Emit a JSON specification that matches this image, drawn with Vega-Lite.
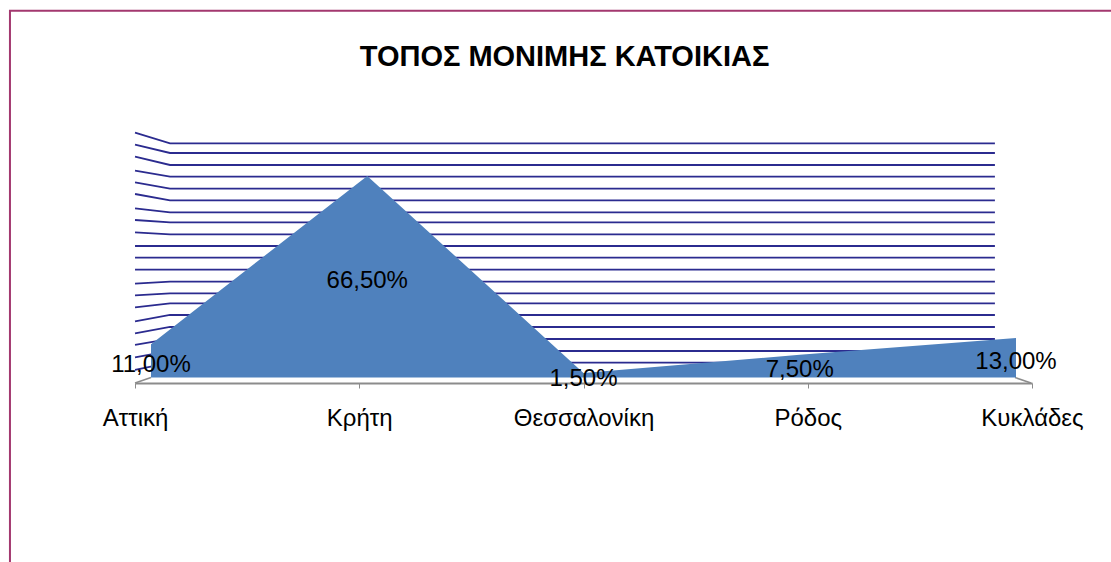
{"$schema":"https://vega.github.io/schema/vega-lite/v6.json","width":897,"height":283,"autosize":"none","padding":{"left":135,"top":100,"right":79,"bottom":179},"background":"white","config":{"view":{"stroke":null},"font":"Liberation Sans"},
"title":{"text":"ΤΟΠΟΣ ΜΟΝΙΜΗΣ ΚΑΤΟΙΚΙΑΣ","font":"Liberation Sans","fontSize":29,"fontWeight":"bold","color":"#000000","anchor":"middle","dx":-19,"offset":-65},
"datasets":{"shares":[{"place":"Αττική","share":11,"label":"11,00%"},{"place":"Κρήτη","share":66.5,"label":"66,50%"},{"place":"Θεσσαλονίκη","share":1.5,"label":"1,50%"},{"place":"Ρόδος","share":7.5,"label":"7,50%"},{"place":"Κυκλάδες","share":13,"label":"13,00%"}],
"grid":[{"line":1,"u":-0.074,"v":80.79},{"line":1,"u":0.088,"v":77.29},{"line":1,"u":3.907,"v":77.29},{"line":2,"u":-0.074,"v":76.83},{"line":2,"u":0.088,"v":74.09},{"line":2,"u":3.907,"v":74.09},{"line":3,"u":-0.074,"v":72.87},{"line":3,"u":0.088,"v":70.13},{"line":3,"u":3.907,"v":70.13},{"line":4,"u":-0.074,"v":68.25},{"line":4,"u":0.088,"v":66.27},{"line":4,"u":3.907,"v":66.27},{"line":5,"u":-0.074,"v":64.42},{"line":5,"u":0.088,"v":62.31},{"line":5,"u":3.907,"v":62.31},{"line":6,"u":-0.074,"v":60.56},{"line":6,"u":0.088,"v":58.48},{"line":6,"u":3.907,"v":58.48},{"line":7,"u":-0.074,"v":55.84},{"line":7,"u":0.088,"v":54.52},{"line":7,"u":3.907,"v":54.52},{"line":8,"u":-0.074,"v":51.98},{"line":8,"u":0.088,"v":51.22},{"line":8,"u":3.907,"v":51.22},{"line":9,"u":-0.074,"v":47.92},{"line":9,"u":0.088,"v":47.26},{"line":9,"u":3.907,"v":47.26},{"line":10,"u":-0.074,"v":43.4},{"line":10,"u":0.088,"v":43.4},{"line":10,"u":3.907,"v":43.4},{"line":11,"u":-0.074,"v":39.54},{"line":11,"u":0.088,"v":39.54},{"line":11,"u":3.907,"v":39.54},{"line":12,"u":-0.074,"v":35.58},{"line":12,"u":0.088,"v":35.58},{"line":12,"u":3.907,"v":35.58},{"line":13,"u":-0.074,"v":30.96},{"line":13,"u":0.088,"v":31.62},{"line":13,"u":3.907,"v":31.62},{"line":14,"u":-0.074,"v":27.13},{"line":14,"u":0.088,"v":27.79},{"line":14,"u":3.907,"v":27.79},{"line":15,"u":-0.074,"v":23.17},{"line":15,"u":0.088,"v":24.49},{"line":15,"u":3.907,"v":24.49},{"line":16,"u":-0.074,"v":18.55},{"line":16,"u":0.088,"v":20.63},{"line":16,"u":3.907,"v":20.63},{"line":17,"u":-0.074,"v":14.59},{"line":17,"u":0.088,"v":16.67},{"line":17,"u":3.907,"v":16.67},{"line":18,"u":-0.074,"v":10.73},{"line":18,"u":0.088,"v":12.71},{"line":18,"u":3.907,"v":12.71},{"line":19,"u":-0.074,"v":6.67},{"line":19,"u":0.088,"v":8.75},{"line":19,"u":3.907,"v":8.75},{"line":20,"u":-0.074,"v":2.48},{"line":20,"u":0.088,"v":4.88},{"line":20,"u":3.907,"v":4.88}],
"floor":[{"edge":"a","u":-0.074,"v":-1.815},{"edge":"a","u":0,"v":0},{"edge":"b","u":4,"v":0},{"edge":"b","u":4.074,"v":-1.815}],
"frame":[{"step":1,"u":-0.653,"v":-61},{"step":2,"u":-0.653,"v":121},{"step":3,"u":4.6,"v":121}]},
"layer":[
{"data":{"name":"frame"},"mark":{"type":"line","color":"#A3386F","strokeWidth":2,"clip":false},"encoding":{"order":{"field":"step","type":"quantitative"},"x":{"field":"u","type":"quantitative","axis":null,"scale":{"domain":[-0.0741,4.0787],"nice":false,"zero":false}},"y":{"field":"v","type":"quantitative","axis":null,"scale":{"domain":[-1.815,91.58],"nice":false,"zero":false}}}},
{"data":{"name":"grid"},"mark":{"type":"line","color":"#2B2B8F","strokeWidth":1.8},"encoding":{"detail":{"field":"line","type":"nominal"},"order":{"field":"u","type":"quantitative"},"x":{"field":"u","type":"quantitative","axis":null,"scale":{"domain":[-0.0741,4.0787],"nice":false,"zero":false}},"y":{"field":"v","type":"quantitative","axis":null,"scale":{"domain":[-1.815,91.58],"nice":false,"zero":false}}}},
{"data":{"name":"floor"},"mark":{"type":"line","color":"#8C8C8C","strokeWidth":1.5},"encoding":{"detail":{"field":"edge","type":"nominal"},"x":{"field":"u","type":"quantitative","axis":null,"scale":{"domain":[-0.0741,4.0787],"nice":false,"zero":false}},"y":{"field":"v","type":"quantitative","axis":null,"scale":{"domain":[-1.815,91.58],"nice":false,"zero":false}}}},
{"data":{"name":"shares"},"mark":{"type":"area","color":"#4F81BD","opacity":1},"encoding":{"x":{"field":"place","type":"nominal","sort":null,"axis":null,"scale":{"type":"point","padding":0,"range":[16,881]}},"y":{"field":"share","type":"quantitative","axis":null,"scale":{"domain":[-1.815,91.58],"nice":false}}}},
{"data":{"name":"shares"},"mark":{"type":"point","opacity":0},"encoding":{"x":{"field":"place","type":"nominal","sort":null,"title":null,"scale":{"type":"point","padding":0,"range":[0,897]},"axis":{"orient":"bottom","domainColor":"#8C8C8C","domainWidth":2,"tickColor":"#8C8C8C","tickWidth":1,"tickSize":5,"labelAngle":0,"labelFont":"Liberation Sans","labelFontSize":24,"labelColor":"#000000","labelPadding":18,"grid":false,"labelOverlap":false,"labelBound":false,"labelFlush":false}},"y":{"field":"share","type":"quantitative","axis":null,"scale":{"domain":[-1.815,91.58],"nice":false}}}},
{"data":{"name":"shares"},"mark":{"type":"text","font":"Liberation Sans","fontSize":24,"color":"#000000","baseline":"middle","dy":4},"encoding":{"text":{"field":"label","type":"nominal"},"x":{"field":"place","type":"nominal","sort":null,"axis":null,"scale":{"type":"point","padding":0,"range":[16,881]}},"y":{"field":"share","type":"quantitative","axis":null,"scale":{"domain":[-3.63,183.16],"nice":false,"zero":false}}}}
],
"resolve":{"scale":{"x":"independent","y":"independent"},"axis":{"x":"independent","y":"independent"}}}
